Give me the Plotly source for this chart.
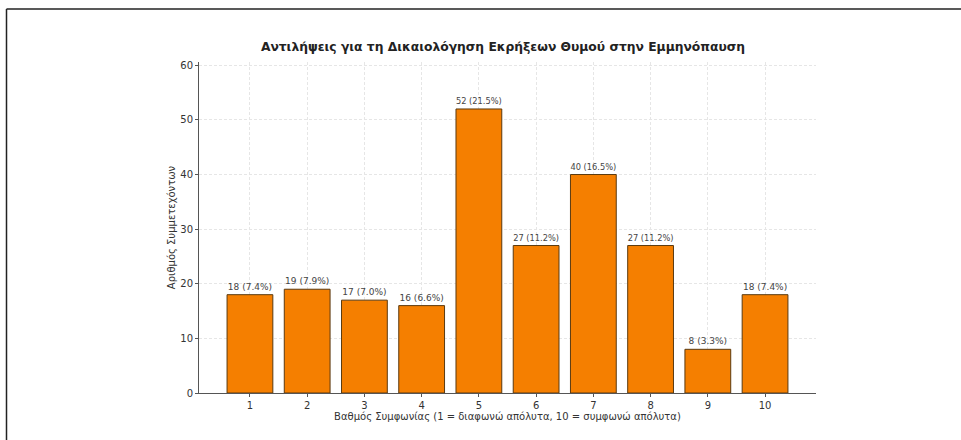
import plotly.graph_objects as go

categories = [1, 2, 3, 4, 5, 6, 7, 8, 9, 10]
counts = [18, 19, 17, 16, 52, 27, 40, 27, 8, 18]
title_text = "Αντιλήψεις για τη Δικαιολόγηση Εκρήξεων Θυμού στην Εμμηνόπαυση"
x_title = "Βαθμός Συμφωνίας (1 = διαφωνώ απόλυτα, 10 = συμφωνώ απόλυτα)"
y_title = "Αριθμός Συμμετεχόντων"

total = sum(counts)
labels = [f"{c} ({c / total * 100:.1f}%)" for c in counts]

W, H = 961, 440
L, R, T, B = 199, 145, 62, 47
pw, ph = W - L - R, H - T - B

def px(x):
    return (x - L) / pw

def py(y):
    return (H - B - y) / ph

fig = go.Figure()
fig.add_trace(go.Bar(
    x=categories, y=counts, width=0.8,
    marker=dict(color="#F57F00", line=dict(color="#5a3a10", width=1)),
    text=labels, textposition="outside",
    textfont=dict(family="DejaVu Sans", size=9, color="#444"),
    cliponaxis=False,
))

font = "DejaVu Sans"
grid = dict(showgrid=True, gridcolor="#e6e6e6", griddash="3px,2px", gridwidth=0.8)
fig.update_layout(
    width=W, height=H,
    margin=dict(l=L, r=R, t=T, b=B),
    paper_bgcolor="white", plot_bgcolor="white",
    showlegend=False,
    title=dict(text=f"<b>{title_text}</b>", xref="container", x=503 / W, xanchor="center",
               yref="container", y=1 - 47 / H, yanchor="middle",
               font=dict(family=font, size=12.3, color="#222")),
    xaxis=dict(range=[0.11, 10.89], tickmode="array", tickvals=categories,
               ticktext=[str(c) for c in categories],
               showline=True, linecolor="#555", linewidth=1,
               ticks="outside", ticklen=3, tickcolor="#555",
               tickfont=dict(family=font, size=10, color="#333"),
               title=dict(text=x_title, font=dict(family=font, size=10, color="#333"), standoff=0),
               zeroline=False, **grid),
    yaxis=dict(range=[0, 60.6], tickmode="array", tickvals=[0, 10, 20, 30, 40, 50, 60],
               showline=True, linecolor="#555", linewidth=1,
               ticks="outside", ticklen=3, tickcolor="#555",
               tickfont=dict(family=font, size=10, color="#333"),
               title=dict(text=y_title, font=dict(family=font, size=10, color="#333"), standoff=2),
               zeroline=False, **grid),
    bargap=0.2,
)

fig.add_shape(type="line", xref="paper", yref="paper",
              x0=px(6.5), x1=px(970), y0=py(9), y1=py(9),
              line=dict(color="#222", width=1.5))
fig.add_shape(type="line", xref="paper", yref="paper",
              x0=px(6.5), x1=px(6.5), y0=py(9), y1=py(450),
              line=dict(color="#222", width=1.5))

fig.write_html("out.html", config={"displayModeBar": False},
               post_script="document.body.style.margin='0px';")
